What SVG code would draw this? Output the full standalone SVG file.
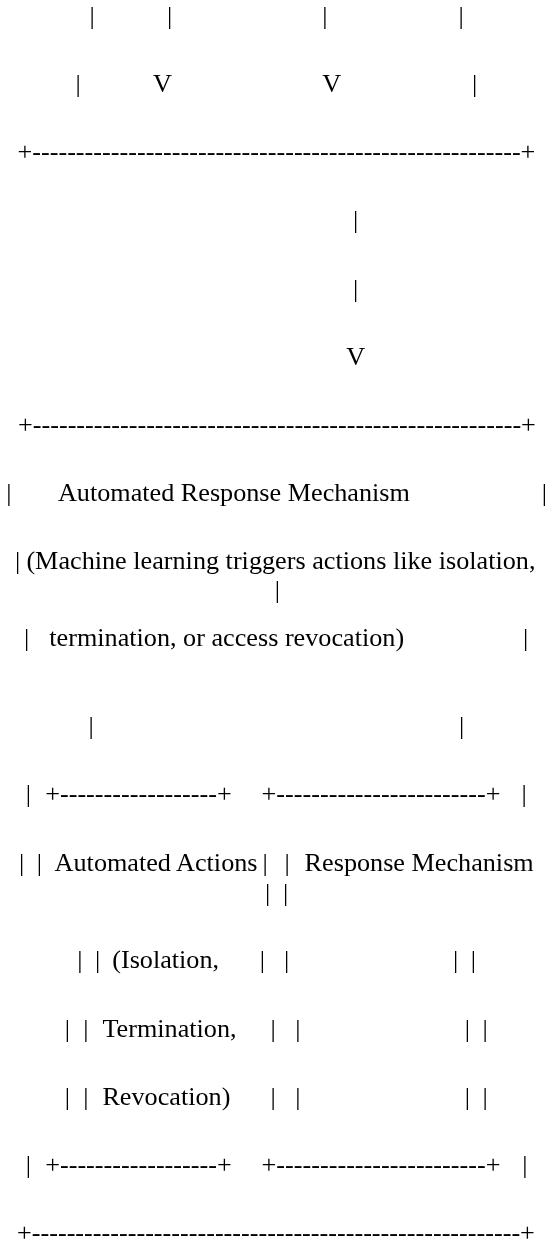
<svg xmlns="http://www.w3.org/2000/svg" width="556" height="1243" viewBox="0 0 556 1243">
<style>
text{font-family:"Liberation Serif","Times New Roman",serif;font-size:26.2px;fill:#000;}
.c{text-anchor:middle;}
.art{filter:grayscale(100%);}
</style>
<rect width="556" height="1243" fill="#fff"/>
<g class="art">
<g id="line01">
<text class="c" x="92.2" y="23.6">|</text><text class="c" x="169.5" y="23.6">|</text><text class="c" x="324.8" y="23.6">|</text><text class="c" x="461" y="23.6">|</text>
</g>
<g id="line02">
<text class="c" x="78" y="91.7">|</text><text class="c" x="162.5" y="91.7">V</text><text class="c" x="331.6" y="91.7">V</text><text class="c" x="474.5" y="91.7">|</text>
</g>
<g id="line03"><text x="17.5" y="160">+--------------------------------------------------------+</text></g>
<g id="line04"><text class="c" x="355.7" y="228">|</text></g>
<g id="line05"><text class="c" x="355.7" y="296.5">|</text></g>
<g id="line06"><text class="c" x="355.7" y="365">V</text></g>
<g id="line07"><text x="18" y="432.5">+--------------------------------------------------------+</text></g>
<g id="line08">
<text class="c" x="8.9" y="501">|</text><text x="57.9" y="501">Automated Response Mechanism</text><text class="c" x="544.3" y="501">|</text>
</g>
<g id="line09">
<text class="c" x="17.7" y="568.5">|</text><text x="26.4" y="568.5">(Machine learning triggers actions like isolation,</text>
<text class="c" x="277.3" y="597.6">|</text>
</g>
<g id="line10">
<text class="c" x="26.6" y="646">|</text><text x="49.3" y="646">termination, or access revocation)</text><text class="c" x="525.5" y="646">|</text>
</g>
<g id="line11">
<text class="c" x="91.1" y="734">|</text><text class="c" x="461.7" y="734">|</text>
</g>
<g id="line12">
<text class="c" x="28.4" y="801.5">|</text><text x="45.2" y="801.5">+------------------+</text><text x="261.6" y="801.5">+------------------------+</text><text class="c" x="524.1" y="801.5">|</text>
</g>
<g id="line13">
<text class="c" x="21.7" y="870.5">|</text><text class="c" x="39.3" y="870.5">|</text><text x="54.6" y="870.5">Automated Actions</text><text class="c" x="265" y="870.5">|</text><text class="c" x="287.2" y="870.5">|</text><text x="304.6" y="870.5">Response Mechanism</text>
<text class="c" x="267.7" y="901">|</text><text class="c" x="285.5" y="901">|</text>
</g>
<g id="line14">
<text class="c" x="79.8" y="968">|</text><text class="c" x="97.5" y="968">|</text><text x="112.2" y="968">(Isolation,</text><text class="c" x="262.4" y="968">|</text><text class="c" x="286.5" y="968">|</text><text class="c" x="455.7" y="968">|</text><text class="c" x="473.4" y="968">|</text>
</g>
<g id="line15">
<text class="c" x="67.4" y="1036.5">|</text><text class="c" x="85.8" y="1036.5">|</text><text x="102.4" y="1036.5">Termination,</text><text class="c" x="273" y="1036.5">|</text><text class="c" x="297.9" y="1036.5">|</text><text class="c" x="467.4" y="1036.5">|</text><text class="c" x="485.1" y="1036.5">|</text>
</g>
<g id="line16">
<text class="c" x="67.4" y="1104.5">|</text><text class="c" x="85.8" y="1104.5">|</text><text x="102.4" y="1104.5">Revocation)</text><text class="c" x="273" y="1104.5">|</text><text class="c" x="297.9" y="1104.5">|</text><text class="c" x="467.4" y="1104.5">|</text><text class="c" x="485.1" y="1104.5">|</text>
</g>
<g id="line17">
<text class="c" x="28.4" y="1172.8">|</text><text x="45.2" y="1172.8">+------------------+</text><text x="261.6" y="1172.8">+------------------------+</text><text class="c" x="524.8" y="1172.8">|</text>
</g>
<g id="line18"><text x="17" y="1240.5">+--------------------------------------------------------+</text></g>
</g>
</svg>
